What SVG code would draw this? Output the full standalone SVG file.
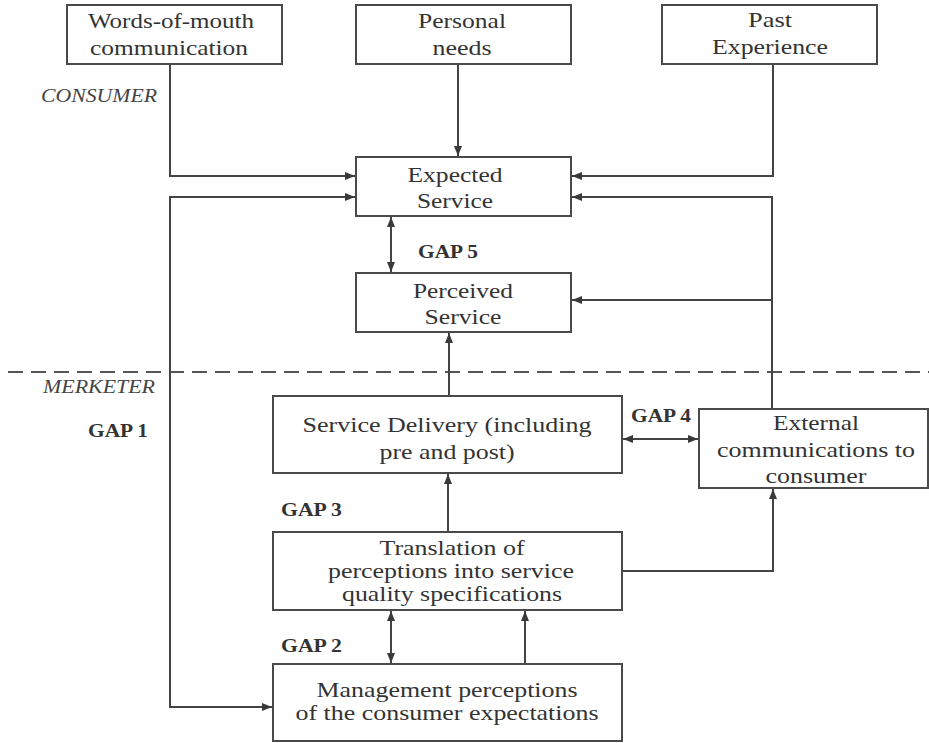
<svg xmlns="http://www.w3.org/2000/svg" width="929" height="743" viewBox="0 0 929 743">
<defs>
<marker id="ah" viewBox="0 0 10 8" refX="10" refY="4" markerWidth="10" markerHeight="8" markerUnits="userSpaceOnUse" orient="auto-start-reverse">
<path d="M0,0 L10,4 L0,8 Z" fill="#3a3a3a"/>
</marker>
</defs>
<style>
.box{fill:#fff;stroke:#4a4a4a;stroke-width:2}
.t{font-size:22px;fill:#333;text-anchor:middle}
.gap{font-size:19px;font-weight:bold;fill:#333}
.lab{font-size:18px;font-style:italic;fill:#444}
.c{fill:none;stroke:#444;stroke-width:2}
</style>
<rect width="929" height="743" fill="#fff"/>
<g font-family="'Liberation Serif', 'DejaVu Serif', serif">
<line x1="8" y1="372" x2="929" y2="372" stroke="#555" stroke-width="2" stroke-dasharray="15,8"/>
<text class="lab" x="41" y="102" textLength="116" lengthAdjust="spacingAndGlyphs">CONSUMER</text>
<text class="lab" x="43" y="393" textLength="112" lengthAdjust="spacingAndGlyphs">MERKETER</text>
<g id="connectors">
<polyline class="c" points="170,64 170,176 355,176" marker-end="url(#ah)"/>
<polyline class="c" points="355,197 170,197 170,707 272,707" marker-start="url(#ah)" marker-end="url(#ah)"/>
<line class="c" x1="458" y1="64" x2="458" y2="156" marker-end="url(#ah)"/>
<polyline class="c" points="773,64 773,176 572,176" marker-end="url(#ah)"/>
<polyline class="c" points="772,409 772,197 572,197" marker-end="url(#ah)"/>
<line class="c" x1="772" y1="300" x2="572" y2="300" marker-end="url(#ah)"/>
<line class="c" x1="391" y1="217" x2="391" y2="272" marker-start="url(#ah)" marker-end="url(#ah)"/>
<line class="c" x1="449" y1="396" x2="449" y2="333" marker-end="url(#ah)"/>
<line class="c" x1="623" y1="439" x2="698" y2="439" marker-start="url(#ah)" marker-end="url(#ah)"/>
<polyline class="c" points="622,571 773,571 773,489" marker-end="url(#ah)"/>
<line class="c" x1="448" y1="532" x2="448" y2="474" marker-end="url(#ah)"/>
<line class="c" x1="391" y1="611" x2="391" y2="663" marker-start="url(#ah)" marker-end="url(#ah)"/>
<line class="c" x1="525" y1="664" x2="525" y2="611" marker-end="url(#ah)"/>
</g>
<g id="wom"><rect class="box" x="67" y="5" width="215" height="59"/><text class="t" x="171" y="28" textLength="166" lengthAdjust="spacingAndGlyphs">Words-of-mouth</text><text class="t" x="169" y="55" textLength="158" lengthAdjust="spacingAndGlyphs">communication</text></g>
<g id="needs"><rect class="box" x="356" y="5" width="215" height="59"/><text class="t" x="462" y="28" textLength="88" lengthAdjust="spacingAndGlyphs">Personal</text><text class="t" x="462" y="55" textLength="59" lengthAdjust="spacingAndGlyphs">needs</text></g>
<g id="past"><rect class="box" x="662" y="5" width="215" height="59"/><text class="t" x="770" y="27" textLength="44" lengthAdjust="spacingAndGlyphs">Past</text><text class="t" x="770" y="54" textLength="116" lengthAdjust="spacingAndGlyphs">Experience</text></g>
<g id="expected"><rect class="box" x="356" y="157" width="215" height="59"/><text class="t" x="455" y="182" textLength="95" lengthAdjust="spacingAndGlyphs">Expected</text><text class="t" x="455" y="208" textLength="76" lengthAdjust="spacingAndGlyphs">Service</text></g>
<g id="perceived"><rect class="box" x="356" y="273" width="215" height="59"/><text class="t" x="463" y="298" textLength="100" lengthAdjust="spacingAndGlyphs">Perceived</text><text class="t" x="463" y="324" textLength="77" lengthAdjust="spacingAndGlyphs">Service</text></g>
<g id="delivery"><rect class="box" x="273" y="396" width="349" height="77"/><text class="t" x="447" y="432" textLength="289" lengthAdjust="spacingAndGlyphs">Service Delivery (including</text><text class="t" x="447" y="459" textLength="135" lengthAdjust="spacingAndGlyphs">pre and post)</text></g>
<g id="external"><rect class="box" x="699" y="409" width="229" height="79"/><text class="t" x="816" y="430" textLength="86" lengthAdjust="spacingAndGlyphs">External</text><text class="t" x="816" y="457" textLength="198" lengthAdjust="spacingAndGlyphs">communications to</text><text class="t" x="816" y="483" textLength="101" lengthAdjust="spacingAndGlyphs">consumer</text></g>
<g id="translation"><rect class="box" x="273" y="532" width="349" height="78"/><text class="t" x="452" y="555" textLength="145" lengthAdjust="spacingAndGlyphs">Translation of</text><text class="t" x="451" y="578" textLength="246" lengthAdjust="spacingAndGlyphs">perceptions into service</text><text class="t" x="452" y="601" textLength="220" lengthAdjust="spacingAndGlyphs">quality specifications</text></g>
<g id="management"><rect class="box" x="273" y="664" width="349" height="77"/><text class="t" x="447" y="697" textLength="261" lengthAdjust="spacingAndGlyphs">Management perceptions</text><text class="t" x="447" y="720" textLength="303" lengthAdjust="spacingAndGlyphs">of the consumer expectations</text></g>
<text class="gap" x="418" y="258" textLength="60" lengthAdjust="spacingAndGlyphs">GAP 5</text>
<text class="gap" x="88" y="437" textLength="60" lengthAdjust="spacingAndGlyphs">GAP 1</text>
<text class="gap" x="631" y="422" textLength="60" lengthAdjust="spacingAndGlyphs">GAP 4</text>
<text class="gap" x="281" y="516" textLength="61" lengthAdjust="spacingAndGlyphs">GAP 3</text>
<text class="gap" x="281" y="652" textLength="61" lengthAdjust="spacingAndGlyphs">GAP 2</text>
</g>
</svg>
